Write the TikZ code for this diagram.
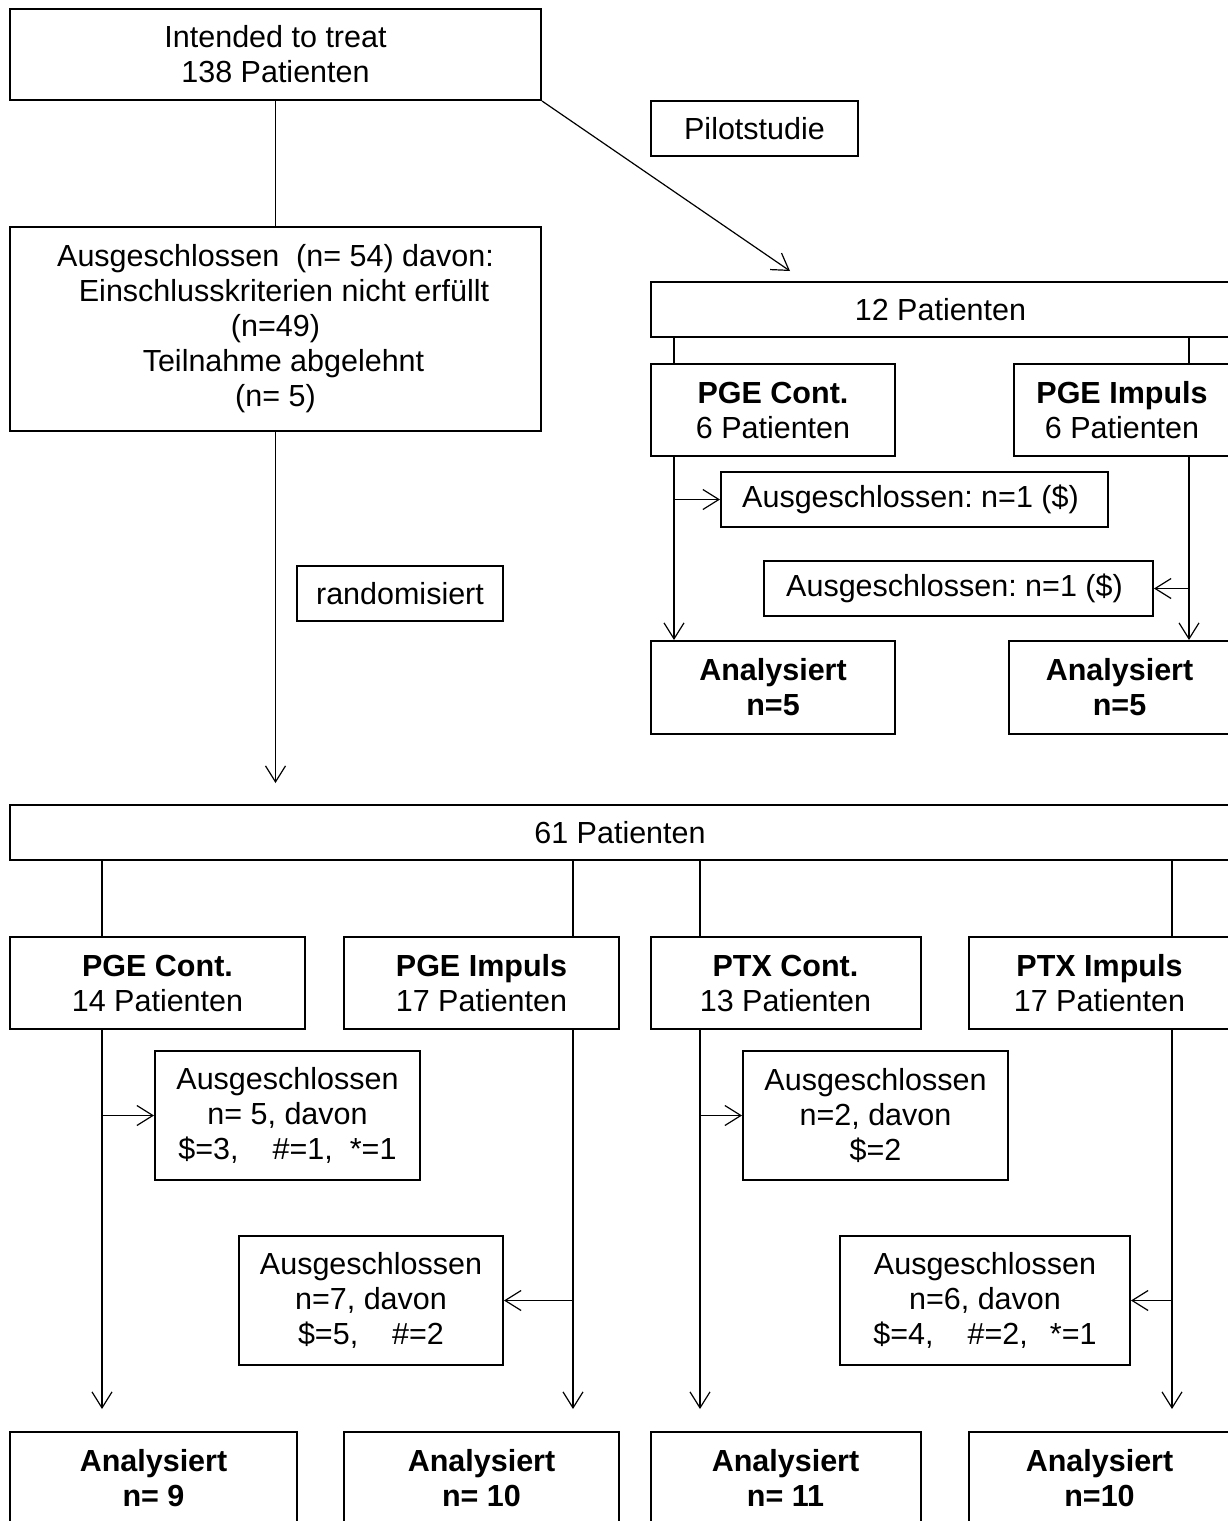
\documentclass[tikz,border=0pt]{standalone}
\usepackage{fontspec}
\setmainfont{Liberation Sans}
\usetikzlibrary{arrows.meta}
\frenchspacing
\begin{document}
\begin{tikzpicture}[x=1pt,y=-1pt,
  box/.style={draw,line width=2pt,inner sep=0pt,align=center,font=\fontsize{30.5}{35}\selectfont\frenchspacing},
  con/.style={line width=1.2pt},
  arr/.style={line width=1.2pt,-{Straight Barb[length=16pt,width=20pt,line width=1.2pt]}}]
\useasboundingbox (0,0) rectangle (1228,1521);
\clip (0,0) rectangle (1228,1521);
\fill[white] (0,0) rectangle (1228,1521);
% top
\node[box,minimum width=531pt,minimum height=91pt] (itt) at (275.5,54.5) {Intended to treat\\138 Patienten};
\node[box,minimum width=531pt,minimum height=204pt] (excl0) at (275.5,329) {Ausgeschlossen\hspace{17pt}(n= 54) davon:\\\hspace*{17pt}Einschlusskriterien nicht erfüllt\\(n=49)\\\hspace*{16pt}Teilnahme abgelehnt\\(n= 5)};
\node[box,minimum width=207pt,minimum height=55pt] (pilot) at (754.5,128.5) {Pilotstudie};
\node[box,minimum width=206pt,minimum height=55pt] (rand) at (400,593.5) {randomisiert};
% pilot branch
\node[box,minimum width=579pt,minimum height=55pt] (p12) at (940.5,309.5) {12 Patienten};
\node[box,minimum width=244pt,minimum height=92pt] (ppc) at (773,410) {\textbf{PGE Cont.}\\6 Patienten};
\node[box,minimum width=216pt,minimum height=92pt] (ppi) at (1122,410) {\textbf{PGE Impuls}\\6 Patienten};
\node[box,minimum width=387pt,minimum height=55pt] (pex1) at (914.5,499.5) {\hspace*{-8pt}Ausgeschlossen: n=1 (\$)};
\node[box,minimum width=389pt,minimum height=55pt] (pex2) at (958.5,588.5) {\hspace*{-8pt}Ausgeschlossen: n=1 (\$)};
\node[box,minimum width=244pt,minimum height=93pt] (pa1) at (773,687.5) {\textbf{Analysiert}\\\textbf{n=5}};
\node[box,minimum width=221pt,minimum height=93pt] (pa2) at (1119.5,687.5) {\textbf{Analysiert}\\\textbf{n=5}};
% randomised
\node[box,minimum width=1220pt,minimum height=55pt] (p61) at (620,832.5) {61 Patienten};
\node[box,minimum width=295pt,minimum height=92pt] (g1) at (157.5,983) {\textbf{PGE Cont.}\\14 Patienten};
\node[box,minimum width=275pt,minimum height=92pt] (g2) at (481.5,983) {\textbf{PGE Impuls}\\17 Patienten};
\node[box,minimum width=270pt,minimum height=92pt] (g3) at (785.5,983) {\textbf{PTX Cont.}\\13 Patienten};
\node[box,minimum width=261pt,minimum height=92pt] (g4) at (1099.5,983) {\textbf{PTX Impuls}\\17 Patienten};
\node[box,minimum width=265pt,minimum height=129pt] (e1) at (287.5,1115.5) {Ausgeschlossen\\n= 5, davon\\\$=3,\hspace{34pt}\#=1,\hspace{17pt}*=1};
\node[box,minimum width=265pt,minimum height=129pt] (e2) at (875.5,1115.5) {Ausgeschlossen\\n=2, davon\\\$=2};
\node[box,minimum width=264pt,minimum height=129pt] (e3) at (371,1300.5) {Ausgeschlossen\\n=7, davon\\\$=5,\hspace{34pt}\#=2};
\node[box,minimum width=290pt,minimum height=129pt] (e4) at (985,1300.5) {Ausgeschlossen\\n=6, davon\\\$=4,\hspace{34pt}\#=2,\hspace{22pt}*=1};
\node[box,minimum width=287pt,minimum height=92pt] (a1) at (153.5,1478) {\textbf{Analysiert}\\\textbf{n= 9}};
\node[box,minimum width=275pt,minimum height=92pt] (a2) at (481.5,1478) {\textbf{Analysiert}\\\textbf{n= 10}};
\node[box,minimum width=270pt,minimum height=92pt] (a3) at (785.5,1478) {\textbf{Analysiert}\\\textbf{n= 11}};
\node[box,minimum width=261pt,minimum height=92pt] (a4) at (1099.5,1478) {\textbf{Analysiert}\\\textbf{n=10}};
% helper coordinates
\coordinate (randEnd) at (275.5,783);
\coordinate (pilotEnd) at (790,271);
\coordinate (xL) at (674,0);
\coordinate (xR) at (1189,0);
\coordinate (x1) at (102,0);
\coordinate (x2) at (573,0);
\coordinate (x3) at (700,0);
\coordinate (x4) at (1172,0);
% connectors top
\draw[con] (itt.south) -- (excl0.north);
\draw[arr] (excl0.south) -- (randEnd);
\draw[arr] (itt.south east) -- (pilotEnd);
% pilot
\draw[con] (p12.south -| xL) -- (ppc.north -| xL);
\draw[con] (p12.south -| xR) -- (ppi.north -| xR);
\draw[arr] (ppc.south -| xL) -- (pa1.north -| xL);
\draw[arr] (ppi.south -| xR) -- (pa2.north -| xR);
\draw[arr] (xL |- pex1.west) -- (pex1.west);
\draw[arr] (xR |- pex2.east) -- (pex2.east);
% randomised
\draw[con] (p61.south -| x1) -- (g1.north -| x1);
\draw[con] (p61.south -| x2) -- (g2.north -| x2);
\draw[con] (p61.south -| x3) -- (g3.north -| x3);
\draw[con] (p61.south -| x4) -- (g4.north -| x4);
\draw[arr,shorten >=22pt] (g1.south -| x1) -- (a1.north -| x1);
\draw[arr,shorten >=22pt] (g2.south -| x2) -- (a2.north -| x2);
\draw[arr,shorten >=22pt] (g3.south -| x3) -- (a3.north -| x3);
\draw[arr,shorten >=22pt] (g4.south -| x4) -- (a4.north -| x4);
\draw[arr] (x1 |- e1.west) -- (e1.west);
\draw[arr] (x3 |- e2.west) -- (e2.west);
\draw[arr] (x2 |- e3.east) -- (e3.east);
\draw[arr] (x4 |- e4.east) -- (e4.east);
\end{tikzpicture}
\end{document}
